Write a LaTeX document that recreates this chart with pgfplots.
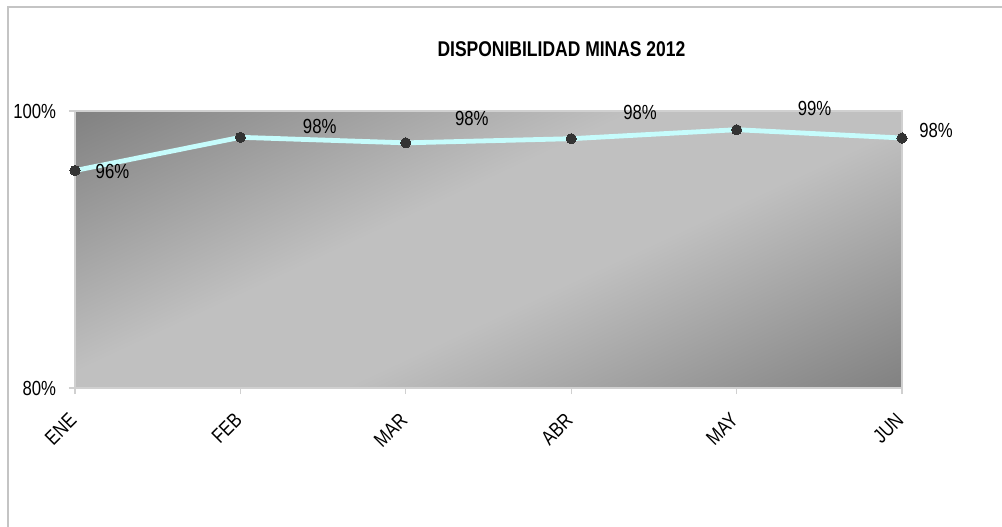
\documentclass[border=0pt]{standalone}
\usepackage{fontspec}
\setmainfont[FakeStretch=0.82]{Liberation Sans}
\usepackage{pgfplots}
\pgfplotsset{compat=1.18}
\usepackage{pgfplotstable}
\pgfplotstableread{
x y dx dy
0 95.7 28.1 -0.5
1 98.1 59.5 8.3
2 97.7 49.5 18.2
3 98.0 51.6 20.0
4 98.65 58.5 15.8
5 98.05 25.5 5.4
}\datatable
\definecolor{linec}{HTML}{C6FCFC}
\definecolor{markc}{HTML}{333333}
\definecolor{framec}{HTML}{C4C4C4}
\definecolor{axc}{HTML}{D0D0D0}
\definecolor{dkg}{HTML}{7F7F7F}
\definecolor{ltg}{HTML}{C0C0C0}
\pgfdeclareverticalshading{bggrad}{100bp}{color(0bp)=(dkg); color(16bp)=(dkg); color(43bp)=(ltg); color(57bp)=(ltg); color(84bp)=(dkg); color(100bp)=(dkg)}
\begin{document}
\begin{tikzpicture}
\path[use as bounding box] (0pt,0pt) rectangle (751.5pt,-395.25pt);
\draw[framec, line width=0.8pt] (6pt,-395.25pt) -- (6pt,-5.25pt) -- (751.5pt,-5.25pt);
\node[font=\bfseries\fontsize{16}{19}\selectfont, inner sep=0pt] at (421.1pt,-36.75pt) {DISPONIBILIDAD MINAS 2012};
\begin{axis}[
  at={(56.25pt,-291pt)}, anchor=south west,
  scale only axis, width=620.25pt, height=207.75pt,
  xmin=0, xmax=5, ymin=80, ymax=100,
  xtick={0,1,2,3,4,5}, xticklabels={ENE,FEB,MAR,ABR,MAY,JUN},
  ytick={80,100}, yticklabels={80\%,100\%},
  /pgf/number format/assume math mode=true,
  axis line style={axc, line width=1.2pt},
  tick style={axc, line width=0.8pt},
  major tick length=4.5pt, tick align=outside, tick pos=left,
  ticklabel style={font=\fontsize{15.3}{18}\selectfont, text=black},
  yticklabel style={anchor=east, inner sep=0pt, xshift=-9.5pt},
  xticklabel style={xshift=-1.5pt, yshift=-17pt, rotate=45, anchor=east, inner sep=0pt},
  axis background/.style={shading=bggrad, shading angle=25},
  clip=false,
]
\addplot[linec, line width=3.6pt, mark=*, mark size=3.8pt,
  mark options={draw=markc, fill=markc, line width=0pt},
  point meta=y,
  visualization depends on={\thisrow{dx}\as\dx},
  visualization depends on={\thisrow{dy}\as\dy},
  nodes near coords={\pgfmathprintnumber[fixed,precision=0,assume math mode=true]{\pgfplotspointmeta}\%},
  every node near coord/.append style={anchor=center, xshift=\dx pt, yshift=\dy pt, font=\fontsize{15.3}{18}\selectfont, text=black, inner sep=0pt},
] table[x=x,y=y] {\datatable};
\end{axis}
\end{tikzpicture}
\end{document}
